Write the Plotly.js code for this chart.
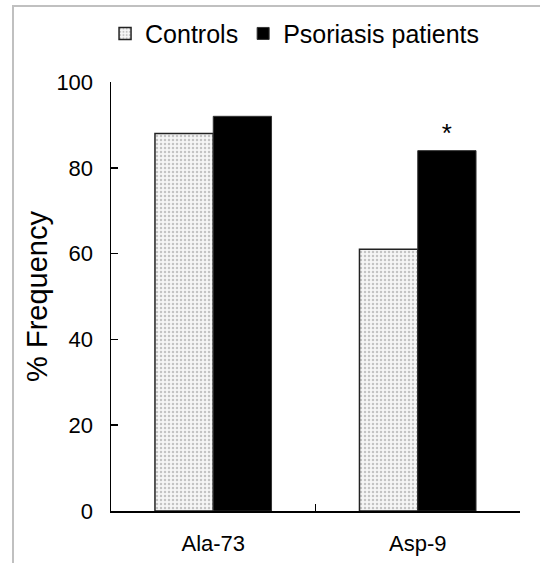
<!DOCTYPE html>
<html>
<head>
<meta charset="utf-8">
<script src="https://cdn.plot.ly/plotly-3.0.1.min.js"></script>
<style>
  html, body { margin: 0; padding: 0; background: #fff; }
  #wrap { position: relative; width: 540px; height: 563px; overflow: hidden; }
  #chart { position: absolute; left: 0; top: 0; width: 540px; height: 563px; }
  #frame { position: absolute; left: 12px; top: 5px; width: 600px; height: 600px;
           border-left: 2px solid #c0c0c0; border-top: 2px solid #c0c0c0; pointer-events: none; }
</style>
</head>
<body>
<div id="wrap">
  <div id="chart"></div>
  <div id="frame"></div>
</div>
<script>
const categories = ["Ala-73", "Asp-9"];
const controls = [88, 61];
const patients = [92, 84];
const patientMarks = ["", "*"];
const seriesNames = ["Controls", "Psoriasis patients"];
const yTicks = [0, 20, 40, 60, 80, 100];

const font = "Arial, 'Liberation Sans', sans-serif";

const traces = [
  {
    type: "bar",
    name: seriesNames[0],
    x: categories,
    y: controls,
    marker: {
      color: "#f4f4f4",
      line: { color: "#222", width: 1.5 },
      pattern: { shape: ".", fgcolor: "#c4c4c4", bgcolor: "#f6f6f6", size: 4, solidity: 0.3 }
    },
    hoverinfo: "skip"
  },
  {
    type: "bar",
    name: seriesNames[1],
    x: categories,
    y: patients,
    text: patientMarks,
    textposition: "outside",
    textfont: { family: font, size: 26, color: "#000" },
    cliponaxis: false,
    marker: { color: "#000", line: { color: "#333", width: 1 } },
    hoverinfo: "skip"
  }
];

const layout = {
  width: 540,
  height: 563,
  margin: { l: 111, r: 20, t: 81, b: 52 },
  paper_bgcolor: "#fff",
  plot_bgcolor: "#fff",
  barmode: "group",
  bargap: 0.43,
  bargroupgap: 0,
  font: { family: font, color: "#000", size: 22 },
  showlegend: true,
  legend: {
    orientation: "h",
    x: 0.45, xanchor: "center",
    y: 1.11, yanchor: "middle",
    font: { family: font, size: 25, color: "#000" },
    itemwidth: 30,
    tracegroupgap: 0
  },
  xaxis: {
    type: "category",
    showline: true,
    linecolor: "#000",
    linewidth: 1.5,
    ticks: "inside",
    tickson: "boundaries",
    ticklen: 7,
    tickcolor: "#000",
    tickwidth: 1.5,
    ticklabelstandoff: 12,
    tickfont: { family: font, size: 22, color: "#000" },
    showgrid: false,
    zeroline: false,
    fixedrange: true
  },
  yaxis: {
    range: [0, 100],
    tickvals: yTicks,
    showline: true,
    linecolor: "#000",
    linewidth: 1.5,
    ticks: "inside",
    ticklen: 7,
    tickcolor: "#000",
    tickwidth: 1.5,
    ticklabelstandoff: 12,
    tickfont: { family: font, size: 22, color: "#000" },
    showgrid: false,
    zeroline: false,
    title: { text: "% Frequency", font: { family: font, size: 29, color: "#000" }, standoff: 0 },
    fixedrange: true
  }
};

Plotly.newPlot("chart", traces, layout, { displayModeBar: false, staticPlot: true });
</script>
</body>
</html>
